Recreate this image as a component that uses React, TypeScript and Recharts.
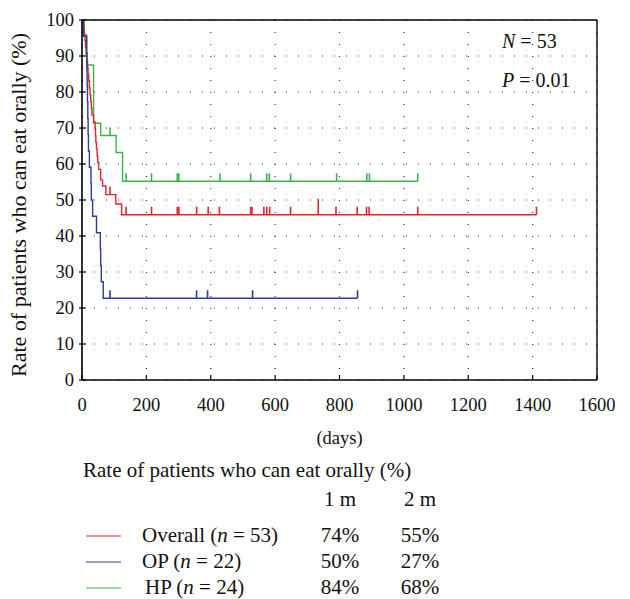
import React from 'react';
import { ComposedChart, Line, Scatter, XAxis, YAxis, CartesianGrid, ReferenceLine } from 'recharts';

// ---- data ----
const xTicks = [0, 200, 400, 600, 800, 1000, 1200, 1400, 1600];
const yTicks = [0, 10, 20, 30, 40, 50, 60, 70, 80, 90, 100];

const overallDays = [0, 5, 7, 9, 11, 13, 15, 17, 19, 21, 23, 25, 27, 29, 31, 36, 41, 42, 43, 45, 47, 49, 52, 58, 64, 74, 105, 123, 1412];
const overallRates = [100, 98.1, 96.2, 94.3, 92.5, 90.6, 88.7, 86.8, 84.9, 83.0, 81.1, 79.2, 77.4, 75.5, 73.6, 71.7, 69.8, 67.9, 66.0, 64.2, 62.3, 60.4, 58.5, 55.6, 53.9, 51.5, 48.9, 45.9, 45.9];
const overallCensored = [87, 137, 216, 296, 301, 356, 392, 427, 524, 528, 565, 574, 583, 648, 734, 734, 789, 855, 884, 892, 1043, 1412];

const opDays = [0, 4, 14, 15, 16, 17, 18, 19, 20, 23, 28, 29, 33, 45, 57, 58, 60, 66, 856];
const opRates = [100, 95.5, 90.9, 86.4, 81.8, 77.3, 72.7, 68.2, 63.6, 59.1, 54.5, 50.0, 45.5, 40.9, 36.4, 31.8, 27.3, 22.7, 22.7];
const opCensored = [87, 356, 390, 530, 856];

const hpDays = [0, 7, 15, 36, 58, 106, 126, 1043];
const hpRates = [100, 95.8, 87.5, 71.3, 67.9, 63.2, 55.2, 55.2];
const hpCensored = [87, 137, 216, 296, 301, 429, 524, 574, 582, 648, 791, 885, 893, 1043];

const groupNames = ['Overall', 'OP', 'HP'];
const groupN = [53, 22, 24];
const oneMonth = ['74%', '50%', '84%'];
const twoMonth = ['55%', '27%', '68%'];
const statN = '53';
const statP = '0.01';

// ---- styles ----
const RED = '#e1262d';
const BLUE = '#2c3c98';
const GREEN = '#3bb54a';
const COLORS = [RED, BLUE, GREEN];
const FONT = "'Liberation Serif', 'DejaVu Serif', serif";
const TXT: React.CSSProperties = { fontFamily: FONT };

function toSeries(days: number[], rates: number[]) {
  return days.map((d, i) => ({ day: d, rate: rates[i] }));
}
function levelAt(days: number[], rates: number[], t: number) {
  let v = rates[0];
  for (let i = 0; i < days.length; i++) if (days[i] <= t) v = rates[i];
  return v;
}
function censorPoints(days: number[], rates: number[], cdays: number[]) {
  const counts: Record<number, number> = {};
  cdays.forEach((d) => (counts[d] = (counts[d] || 0) + 1));
  return Object.keys(counts).map((k) => {
    const d = Number(k);
    return { day: d, rate: levelAt(days, rates, d), n: counts[d] };
  });
}

const overallSeries = toSeries(overallDays, overallRates);
const opSeries = toSeries(opDays, opRates);
const hpSeries = toSeries(hpDays, hpRates);
const overallMarks = censorPoints(overallDays, overallRates, overallCensored);
const opMarks = censorPoints(opDays, opRates, opCensored);
const hpMarks = censorPoints(hpDays, hpRates, hpCensored);

const makeShape = (color: string) => (props: any) => {
  const { cx, cy, payload } = props;
  const h = 8 * (payload && payload.n ? payload.n : 1);
  return <line x1={cx} y1={cy} x2={cx} y2={cy - h} stroke={color} strokeWidth={1.6} />;
};

const XTick = (props: any) => {
  const { x, y, payload } = props;
  return (
    <g>
      <line x1={x} x2={x} y1={y} y2={y - 5} stroke="#000" strokeWidth={1.2} />
      <text x={x} y={y + 31} textAnchor="middle" fontSize={18.5} style={TXT} fill="#111">
        {payload.value}
      </text>
    </g>
  );
};
const YTick = (props: any) => {
  const { x, y, payload } = props;
  return (
    <g>
      <line x1={x - 3} x2={x + 4} y1={y} y2={y} stroke="#000" strokeWidth={1.2} />
      <text x={x - 8} y={y + 6} textAnchor="end" fontSize={18.5} style={TXT} fill="#111">
        {payload.value}
      </text>
    </g>
  );
};

export default function App() {
  const rows = [0, 1, 2];
  return (
    <div style={{ position: 'absolute', left: 0, top: 0, width: 630, height: 599, background: '#fff', fontFamily: FONT }}>
      <ComposedChart width={630} height={460} margin={{ top: 20, right: 33, bottom: 20, left: 22 }} style={TXT}>
        <CartesianGrid stroke="#333" strokeDasharray="1 11" strokeWidth={1.2} />
        <XAxis
          dataKey="day"
          type="number"
          domain={[0, 1600]}
          ticks={xTicks}
          height={60}
          tickSize={0}
          tickMargin={0}
          tickLine={false}
          tick={<XTick />}
          axisLine={{ stroke: '#000', strokeWidth: 1.6 }}
          allowDataOverflow
        />
        <YAxis
          dataKey="rate"
          type="number"
          domain={[0, 100]}
          ticks={yTicks}
          width={60}
          tickSize={0}
          tickMargin={0}
          tickLine={false}
          tick={<YTick />}
          axisLine={{ stroke: '#000', strokeWidth: 1.6 }}
          allowDataOverflow
        />
        <ReferenceLine y={100} stroke="#000" strokeWidth={1.4} ifOverflow="extendDomain" />
        <ReferenceLine x={1600} stroke="#000" strokeWidth={1.4} ifOverflow="extendDomain" />
        <Line data={hpSeries} dataKey="rate" type="stepAfter" stroke={GREEN} strokeWidth={1.4} dot={false} isAnimationActive={false} />
        <Line data={overallSeries} dataKey="rate" type="stepAfter" stroke={RED} strokeWidth={1.4} dot={false} isAnimationActive={false} />
        <Line data={opSeries} dataKey="rate" type="stepAfter" stroke={BLUE} strokeWidth={1.4} dot={false} isAnimationActive={false} />
        <Scatter data={hpMarks} dataKey="rate" shape={makeShape(GREEN)} isAnimationActive={false} />
        <Scatter data={overallMarks} dataKey="rate" shape={makeShape(RED)} isAnimationActive={false} />
        <Scatter data={opMarks} dataKey="rate" shape={makeShape(BLUE)} isAnimationActive={false} />
      </ComposedChart>
      <svg width={630} height={599} style={{ position: 'absolute', left: 0, top: 0, pointerEvents: 'none', fontFamily: FONT }}>
        <text transform="translate(26,205) rotate(-90)" textAnchor="middle" fontSize={22} fill="#111" style={TXT}>
          Rate of patients who can eat orally (%)
        </text>
        <text x={502} y={48} fontSize={20} fill="#111" style={TXT}>
          <tspan fontStyle="italic">N</tspan> = {statN}
        </text>
        <text x={502} y={87} fontSize={20} fill="#111" style={TXT}>
          <tspan fontStyle="italic">P</tspan> = {statP}
        </text>
        <text x={339.5} y={444} textAnchor="middle" fontSize={18.5} fill="#111" style={TXT}>(days)</text>
        <text x={83} y={477} fontSize={21} fill="#111" style={TXT}>Rate of patients who can eat orally (%)</text>
        <text x={340} y={506} textAnchor="middle" fontSize={21} fill="#111" style={TXT}>1 m</text>
        <text x={420} y={506} textAnchor="middle" fontSize={21} fill="#111" style={TXT}>2 m</text>
        {rows.map((i) => (
          <g key={i}>
            <line x1={86} x2={121} y1={536 + i * 26} y2={536 + i * 26} stroke={COLORS[i]} strokeWidth={1.2} />
            <text x={i === 2 ? 145 : 142} y={542 + i * 26} fontSize={21} fill="#111" style={TXT}>
              {groupNames[i]} (<tspan fontStyle="italic">n</tspan> = {groupN[i]})
            </text>
            <text x={340} y={542 + i * 26} textAnchor="middle" fontSize={21} fill="#111" style={TXT}>{oneMonth[i]}</text>
            <text x={420} y={542 + i * 26} textAnchor="middle" fontSize={21} fill="#111" style={TXT}>{twoMonth[i]}</text>
          </g>
        ))}
      </svg>
    </div>
  );
}
